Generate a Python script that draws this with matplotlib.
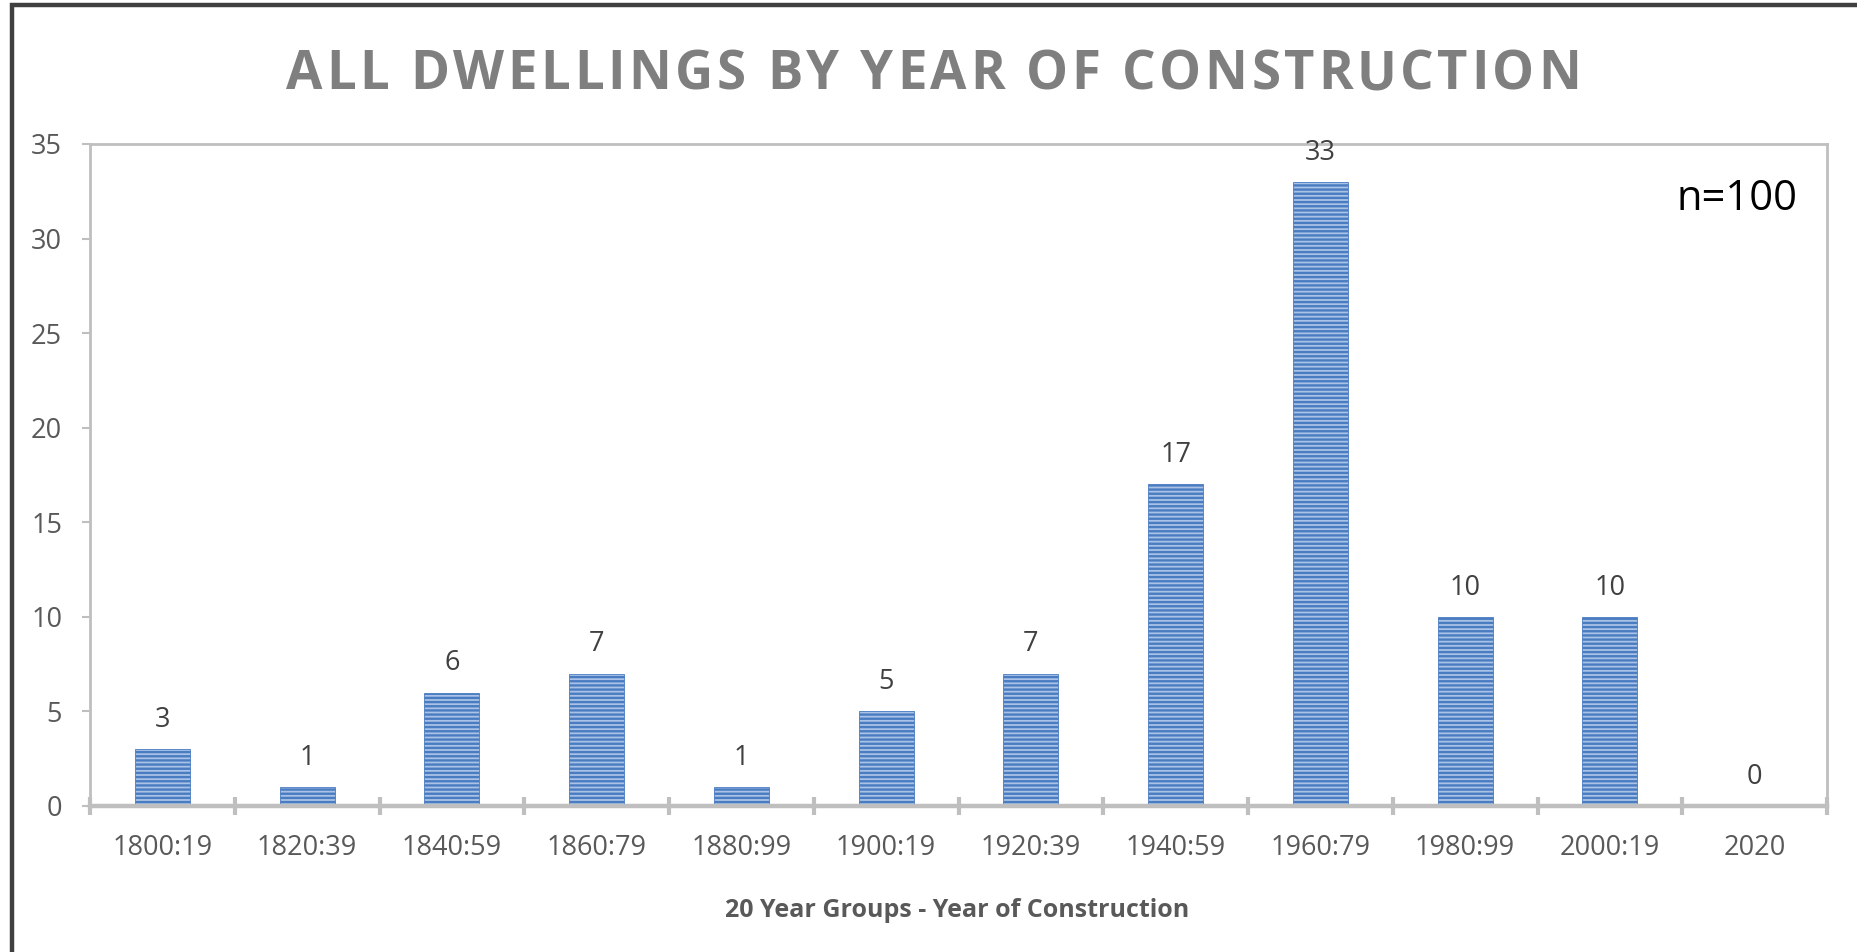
import matplotlib.pyplot as plt
from matplotlib.patches import Rectangle

categories = ["1800:19", "1820:39", "1840:59", "1860:79", "1880:99", "1900:19",
              "1920:39", "1940:59", "1960:79", "1980:99", "2000:19", "2020"]
counts = [3, 1, 6, 7, 1, 5, 7, 17, 33, 10, 10, 0]
y_ticks = [0, 5, 10, 15, 20, 25, 30, 35]

title = "ALL DWELLINGS BY YEAR OF CONSTRUCTION"
x_title = "20 Year Groups - Year of Construction"
note = "n=100"

plt.rcParams['font.family'] = ['Open Sans', 'DejaVu Sans']
plt.rcParams['hatch.linewidth'] = 1.7

W, H = 1857, 952
fig = plt.figure(figsize=(W / 100, H / 100), dpi=100)
ax = fig.add_axes([90 / W, 1 - 806 / H, (1827 - 90) / W, (806 - 144) / H])

x = list(range(len(categories)))
ax.bar(x, counts, width=0.38, color='#a9c2e6', edgecolor='#4a7cc2',
       linewidth=0.6, hatch='----')

for xi, v in zip(x, counts):
    ax.annotate(str(v), (xi, v), xytext=(0, 16), textcoords='offset points',
                ha='center', va='baseline', fontsize=19.5, color='#404040')

ax.set_xlim(-0.5, len(categories) - 0.5)
ax.set_ylim(0, 35)
ax.set_yticks(y_ticks)
ax.set_xticks([i - 0.5 for i in range(len(categories) + 1)], minor=False)
ax.set_xticklabels([])
ax.set_xticks(x, minor=True)
ax.set_xticklabels(categories, minor=True)

ax.tick_params(axis='y', direction='out', length=6, width=1.5, color='#bfbfbf',
               labelsize=19.5, labelcolor='#595959', pad=14)
ax.tick_params(axis='x', which='major', direction='inout', length=13, width=3,
               color='#bfbfbf')
ax.tick_params(axis='x', which='minor', length=0, labelsize=19.5,
               labelcolor='#595959', pad=20)

for side in ['left', 'top', 'right']:
    ax.spines[side].set_color('#bfbfbf')
    ax.spines[side].set_linewidth(2)
ax.spines['bottom'].set_color('#bfbfbf')
ax.spines['bottom'].set_linewidth(3.2)

fig.text(957 / W, 1 - 917 / H, x_title, ha='center', va='baseline',
         fontsize=18, fontweight='bold', color='#595959')

fig.text(1797 / W, 1 - 210 / H, note, ha='right', va='baseline',
         fontsize=30, color='black')

# letter-spaced title, placed char by char
renderer = fig.canvas.get_renderer()
fs = 38
widths = []
for ch in title:
    if ch == ' ':
        widths.append(None)
        continue
    t = fig.text(0, 0, ch, fontsize=fs, fontweight='bold')
    widths.append(t.get_window_extent(renderer).width)
    t.remove()
space_w = 0.26 * fs / 0.72
ink = sum(w if w is not None else space_w for w in widths)
gap = (1295 - ink) / (len(title) - 1)
xpos = 286
for ch, w in zip(title, widths):
    if w is None:
        xpos += space_w + gap
        continue
    fig.text(xpos / W, 1 - 89 / H, ch, fontsize=fs, fontweight='bold',
             color='#7f7f7f', ha='left', va='baseline')
    xpos += w + gap

fig.patches.append(Rectangle((11.7 / W, -0.1), 1.2, 1.1 - 5.3 / H,
                             transform=fig.transFigure, fill=False,
                             edgecolor='#404040', linewidth=3.2))

fig.savefig('out.png', dpi=100, facecolor='white')
